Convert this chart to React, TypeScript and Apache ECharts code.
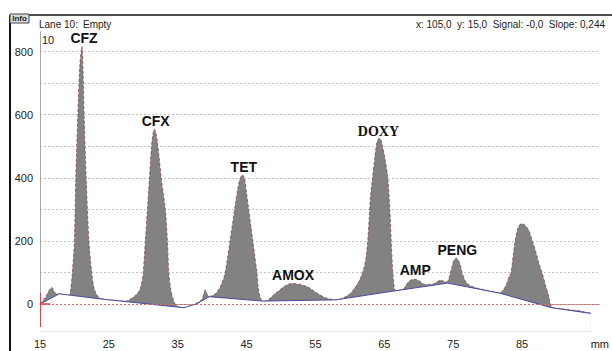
import React, { useEffect, useRef } from "react";
import * as echarts from "echarts";

// Densitometer trace (mm along lane, signal)
const positionsMm = [
  15.0, 15.5, 16.0, 16.4, 16.7, 17.0, 17.4, 17.8, 18.5, 19.2, 19.4, 19.7, 20.0, 20.2, 20.5, 20.8, 21.1, 21.25, 21.4,
  21.7, 22.1, 22.5, 22.8, 23.1, 23.6, 24.5, 26.0, 27.5, 28.3, 29.0, 29.5, 29.8, 30.0, 30.3, 30.6, 30.9, 31.2, 31.45,
  31.6, 31.8, 32.0, 32.3, 32.6, 32.9, 33.2, 33.5, 33.7, 34.0, 34.5, 35.0, 36.0, 36.5, 37.0, 37.7, 38.5, 39.0, 39.3,
  39.6, 40.3, 40.8, 41.3, 41.8, 42.2, 42.6, 43.0, 43.4, 43.8, 44.1, 44.4, 44.7, 45.0, 45.3, 45.6, 45.9, 46.2, 46.5,
  46.7, 47.0, 47.4, 47.9, 48.5, 49.0, 49.6, 50.3, 51.0, 51.7, 52.5, 53.2, 53.8, 54.5, 55.1, 55.7, 56.4, 57.1, 58.0,
  58.6, 59.3, 60.0, 60.5, 61.0, 61.5, 62.0, 62.3, 62.6, 62.8, 63.0, 63.3, 63.6, 63.9, 64.1, 64.3, 64.5, 64.7, 65.1,
  65.5, 65.8, 66.0, 66.2, 66.4, 66.6, 67.2, 67.8, 68.3, 68.8, 69.4, 70.0, 70.5, 70.8, 71.5, 72.2, 72.8, 73.2, 73.6,
  74.1, 74.5, 74.8, 75.1, 75.5, 75.9, 76.3, 76.7, 77.3, 78.5, 80.0, 81.0, 81.8, 82.3, 82.7, 83.1, 83.4, 83.7, 84.0,
  84.4, 84.7, 85.0, 85.5, 86.0, 86.5, 87.0, 87.5, 87.9, 88.4, 88.9, 89.3, 90.0, 91.0, 92.0, 93.0, 94.0, 95.0,
];
const signal = [
  0, 12, 30, 45, 52, 42, 32, 32, 29, 27, 35, 100, 200, 400, 600, 760, 816, 740, 600,
  400, 200, 100, 55, 35, 20, 14, 11, 9, 18, 30, 45, 70, 100, 200, 300, 400, 500, 545,
  554, 545, 520, 465, 400, 350, 300, 200, 100, 45, 5, -8, -12, -12, -6, 2, 14, 44, 30,
  24, 30, 40, 60, 90, 140, 200, 260, 320, 375, 400, 409, 398, 350, 300, 250, 200, 150, 100,
  50, 20, 9, 10, 20, 30, 40, 53, 62, 65, 63, 59, 55, 45, 36, 28, 20, 16, 13,
  15, 22, 32, 44, 60, 80, 110, 140, 200, 270, 340, 400, 460, 510, 522, 525, 520, 505, 460,
  400, 300, 200, 110, 60, 43, 44, 48, 65, 75, 78, 74, 66, 62, 62, 64, 72, 76, 72,
  70, 90, 115, 138, 145, 132, 100, 75, 60, 50, 43, 38, 35, 45, 60, 85, 100, 150, 200,
  240, 252, 254, 248, 232, 200, 165, 125, 100, 60, 23, -10, -14, -16, -19, -21, -25, -30,
];

// Integration baseline knots
const baselineMm = [15, 17.8, 24.5, 26.8, 35.9, 37.7, 39.6, 47.4, 58.0, 66.1, 74.2, 81.8, 89.3, 95];
const baselineValues = [0, 32, 14, 9, -12, 0, 23, 9, 13, 40, 66, 34, -12, -30];

// Axes
const yGridValues = [0, 100, 200, 300, 400, 500, 600, 700, 800];
const yLabelValues = [0, 200, 400, 600, 800];
const xFirstTick = 15;
const xTickStep = 10;
const xLastTickLabel = "mm";

// Peak annotations
const peakNames = ["CFZ", "CFX", "TET", "AMOX", "DOXY", "AMP", "PENG"];
const peakLabelMm = [21.4, 31.8, 44.6, 51.75, 64.15, 69.5, 75.6];
const peakLabelValue = [842, 580, 433, 92, 548, 108, 171];

// Header texts
const laneText = "Lane 10:";
const laneStatus = "Empty";
const cursorText = "x: 105,0  y: 15,0  Signal: -0,0  Slope: 0,244";
const laneNumber = "10";

export default function App() {
  const ref = useRef<HTMLDivElement>(null);

  useEffect(() => {
    if (!ref.current) return;
    const chart = echarts.init(ref.current, null, { renderer: "svg" });

    const signalData = positionsMm.map((x, i) => [x, signal[i]]);
    const baselineData = baselineMm.map((x, i) => [x, baselineValues[i]]);

    const font = "'Liberation Sans', Arial, sans-serif";
    const narrow = "'Liberation Sans Narrow', 'Liberation Sans', Arial, sans-serif";

    chart.setOption({
      animation: false,
      backgroundColor: "#ffffff",
      grid: { left: 40, right: 0, top: 31.7, bottom: 19.3, containLabel: false },
      xAxis: {
        type: "value",
        min: xFirstTick,
        max: 96.3,
        interval: xTickStep,
        axisLine: { show: true, lineStyle: { color: "#a8a8a8", width: 1 } },
        axisTick: { show: false },
        splitLine: { show: false },
        axisLabel: {
          show: true,
          fontFamily: font,
          fontSize: 11,
          color: "#222",
          margin: 7,
          showMaxLabel: true,
          formatter: (v: number) => (v >= 95 ? xLastTickLabel : String(v)),
        },
      },
      yAxis: {
        type: "value",
        min: -88,
        max: 863,
        axisLine: { show: true, onZero: false, lineStyle: { color: "#a8a8a8", width: 1 } },
        axisTick: { show: false, customValues: yGridValues },
        splitLine: {
          show: true,
          lineStyle: { color: "#c4c4c4", type: [2, 2], width: 1 },
        },
        axisLabel: {
          show: true,
          customValues: yLabelValues,
          fontFamily: font,
          fontSize: 11,
          color: "#222",
          margin: 7,
        },
      },
      series: [
        {
          type: "line",
          name: "signal",
          data: signalData,
          symbol: "none",
          smooth: 0.3,
          lineStyle: { color: "#8a4848", width: 0.8, type: [3, 2] },
          areaStyle: { color: "#828282", opacity: 1, origin: "start" },
          z: 2,
          markPoint: {
            symbol: "circle",
            symbolSize: 1,
            itemStyle: { color: "rgba(0,0,0,0)" },
            label: {
              show: true,
              position: "inside",
              fontFamily: font,
              fontWeight: "bold",
              fontSize: 14,
              color: "#111",
              formatter: (p: any) => p.name,
            },
            data: peakNames.map((n, i) => ({
              name: n,
              coord: [peakLabelMm[i], peakLabelValue[i]],
              label:
                n === "DOXY"
                  ? { fontFamily: "'Liberation Serif', 'Times New Roman', serif", fontSize: 14 }
                  : undefined,
            })),
          },
        },
        {
          type: "line",
          name: "baseline",
          data: baselineData,
          symbol: "none",
          lineStyle: { color: "#4848a0", width: 1 },
          areaStyle: { color: "#ffffff", opacity: 1, origin: "start" },
          z: 3,
          markLine: {
            silent: true,
            symbol: "none",
            label: { show: false },
            data: [
              [
                { coord: [xFirstTick, 0], lineStyle: { color: "#e06a6a", type: [2, 2], width: 1 } },
                { coord: [96.3, 0] },
              ],
              [
                { coord: [xFirstTick, 35], lineStyle: { color: "#e04040", type: "solid", width: 1 } },
                { coord: [xFirstTick, -73] },
              ],
              [
                { coord: [xFirstTick, 0], lineStyle: { color: "#e04040", type: "solid", width: 1.5 } },
                { coord: [16.5, 0] },
              ],
            ],
          },
        },
      ],
      graphic: [
        { type: "line", shape: { x1: 10, y1: 15, x2: 612, y2: 15 }, style: { stroke: "#111", lineWidth: 1.5 } },
        { type: "line", shape: { x1: 10, y1: 15, x2: 10, y2: 351 }, style: { stroke: "#111", lineWidth: 2 } },
        {
          type: "rect",
          shape: { x: 10, y: 14, width: 19, height: 9 },
          style: { fill: "#dcdcdc", stroke: "#444", lineWidth: 1 },
          z: 10,
        },
        {
          type: "text",
          x: 19.5,
          y: 18.5,
          style: { text: "Info", fontFamily: narrow, fontSize: 8, fontWeight: "bold", fill: "#222", align: "center", verticalAlign: "middle" },
          z: 11,
        },
        {
          type: "text",
          x: 39,
          y: 24,
          style: { text: laneText, fontFamily: narrow, fontSize: 10, fill: "#222", verticalAlign: "middle" },
        },
        {
          type: "text",
          x: 83,
          y: 24,
          style: { text: laneStatus, fontFamily: narrow, fontSize: 10, fill: "#222", verticalAlign: "middle" },
        },
        {
          type: "text",
          x: 605,
          y: 24,
          style: { text: cursorText, fontFamily: narrow, fontSize: 10, fill: "#222", align: "right", verticalAlign: "middle", whiteSpace: "pre" },
        },
        {
          type: "text",
          x: 42,
          y: 39.5,
          style: { text: laneNumber, fontFamily: font, fontSize: 11, fill: "#222", verticalAlign: "middle" },
        },
      ],
    });

    return () => chart.dispose();
  }, []);

  return (
    <div
      ref={ref}
      style={{ position: "fixed", left: 0, top: 0, width: 612, height: 351, background: "#fff" }}
    />
  );
}
